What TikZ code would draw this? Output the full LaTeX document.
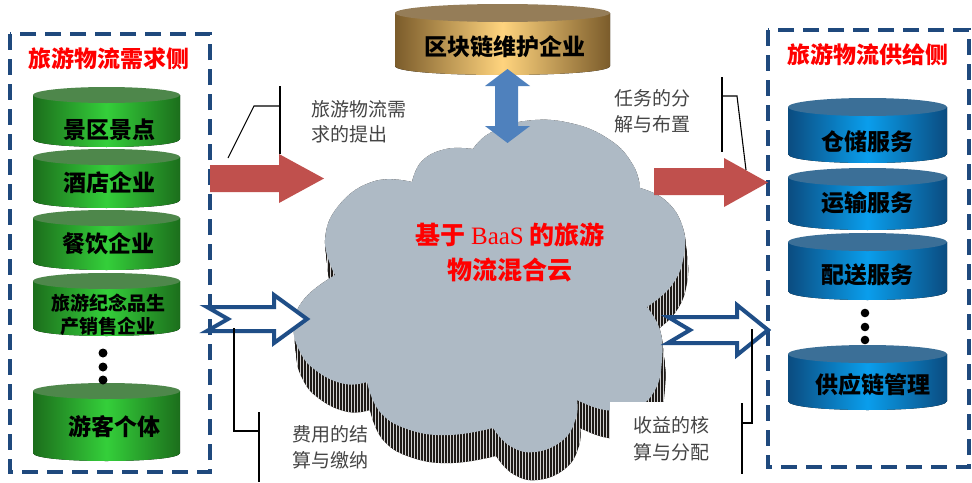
\documentclass[tikz,border=0pt]{standalone}
\usepackage{fontspec}
\setmainfont{Noto Sans CJK SC}
\newfontfamily\latinserif{Liberation Serif}
\usetikzlibrary{patterns}
\definecolor{dashblue}{HTML}{1F497D}
\definecolor{hollowblue}{HTML}{1F4E87}
\definecolor{arrowred}{HTML}{C0504D}
\definecolor{arrowblue}{HTML}{4F81BD}
\definecolor{cloudgray}{HTML}{AEBAC5}
\definecolor{shadowdark}{HTML}{1E1A17}
\definecolor{labelgray}{HTML}{454545}
\definecolor{gEdge}{HTML}{1C6E1C}
\definecolor{gMid}{HTML}{34CF3A}
\definecolor{gTop}{HTML}{4E874B}
\definecolor{bEdge}{HTML}{0B4C80}
\definecolor{bMid}{HTML}{0A9EEC}
\definecolor{bTop}{HTML}{3B6F97}
\definecolor{oEdge}{HTML}{7B5C2B}
\definecolor{oMid}{HTML}{FFD47E}
\definecolor{oTop}{HTML}{957D58}
% cylinder: cx, ytop, ybottom, rx, ry, topcolor, edgecolor, midcolor
\newcommand\mycyl[8]{%
  \fill[left color=#7,right color=#7,middle color=#8]
    (#1-#4,#2+#5) -- (#1-#4,#3-#5)
    .. controls (#1-#4,#3-#5+1.333*#5) and (#1+#4,#3-#5+1.333*#5) .. (#1+#4,#3-#5)
    -- (#1+#4,#2+#5) -- cycle;
  \fill[#6] (#1,#2+#5) ellipse[x radius=#4,y radius=#5];
}
\newcommand\mycloud[1]{%
  \fill[#1] (335,275)
  -- plot[smooth,tension=0.75] coordinates {(335,275) (325,240) (340,204) (375,181) (412,182)}
  -- plot[smooth,tension=0.75] coordinates {(412,182) (422,161) (446,149) (473,149)}
  -- plot[smooth,tension=0.75] coordinates {(473,149) (490,133) (525,121) (570,123) (610,140) (633,165) (640,188)}
  -- plot[smooth,tension=0.75] coordinates {(640,188) (665,200) (682,225) (684,255) (672,285) (647,307)}
  -- plot[smooth,tension=0.75] coordinates {(647,307) (660,330) (662,360) (655,390) (635,408) (605,410) (577,400)}
  -- plot[smooth,tension=0.75] coordinates {(577,400) (576,418) (563,440) (535,452) (510,446) (493,428)}
  -- plot[smooth,tension=0.75] coordinates {(493,428) (450,435) (410,430) (380,412) (367,382)}
  -- plot[smooth,tension=0.75] coordinates {(367,382) (345,384) (318,372) (300,352) (294,325) (305,298) (335,275)}
  -- cycle;
}
\tikzset{
  dashbox/.style={draw=dashblue,line width=3.5pt,dash pattern=on 16pt off 9pt},
  redarrow/.style={fill=arrowred},
  dblarrow/.style={fill=arrowblue},
  hollow/.style={draw=hollowblue,fill=white,line width=4pt,line join=miter},
  callout/.style={draw=black,line width=1.1pt},
  title/.style={text=red,font=\fontsize{23}{28}\selectfont\bfseries,inner sep=0pt,anchor=base},
  cyltext/.style={text=black,font=\fontsize{23}{28}\selectfont\bfseries,inner sep=0pt,anchor=base},
  cyltextsm/.style={text=black,font=\fontsize{19}{24}\selectfont\bfseries,inner sep=0pt,anchor=base},
  label/.style={text=labelgray,font=\fontsize{19}{24}\selectfont,inner sep=0pt,anchor=base west},
  cloudtext/.style={text=red,font=\fontsize{25}{30}\selectfont\bfseries,inner sep=0pt,anchor=base},
  dot/.style={fill=black}
}
\begin{document}
\begin{tikzpicture}[x=1pt,y=-1pt]
\useasboundingbox (0,0) rectangle (972,482);
\fill[white] (0,0) rectangle (972,482);

% dashed boxes
\draw[dashbox] (10,34) rectangle (210,472);
\draw[dashbox] (768,30) rectangle (969,467);

% titles
\node[title] (tleft) at (109,67.7) {旅游物流需求侧};
\node[title] (tright) at (867.5,63.7) {旅游物流供给侧};

% green cylinders
\mycyl{106.5}{87}{147}{73.5}{8}{gTop}{gEdge}{gMid}
\mycyl{106.5}{149}{208}{73.5}{8}{gTop}{gEdge}{gMid}
\mycyl{106.5}{210}{270}{73.5}{8}{gTop}{gEdge}{gMid}
\mycyl{106.5}{273}{336}{73.5}{8}{gTop}{gEdge}{gMid}
\mycyl{106.5}{383}{461}{73.5}{8}{gTop}{gEdge}{gMid}
\node[cyltext] (g1) at (109,138.7) {景区景点};
\node[cyltext] (g2) at (109,191.7) {酒店企业};
\node[cyltext] (g3) at (108,252.7) {餐饮企业};
\node[cyltextsm] (g4a) at (108,310.2) {旅游纪念品生};
\node[cyltextsm] (g4b) at (108,333.2) {产销售企业};
\node[cyltext] (g5) at (114,435.7) {游客个体};
\fill[dot] (103,353) circle[radius=4.5];
\fill[dot] (103,367) circle[radius=4.5];
\fill[dot] (103,380) circle[radius=4.5];

% blue cylinders
\mycyl{867.5}{98}{163}{79.5}{9}{bTop}{bEdge}{bMid}
\mycyl{867.5}{168}{230}{79.5}{9}{bTop}{bEdge}{bMid}
\mycyl{867.5}{233}{300}{79.5}{9}{bTop}{bEdge}{bMid}
\mycyl{867.5}{345}{410}{79.5}{9}{bTop}{bEdge}{bMid}
\node[cyltext] (b1) at (867.5,150.7) {仓储服务};
\node[cyltext] (b2) at (867.5,211.7) {运输服务};
\node[cyltext] (b3) at (867.5,283.7) {配送服务};
\node[cyltext] (b4) at (873,393.7) {供应链管理};
\fill[dot] (865,313) circle[radius=4.3];
\fill[dot] (865,327) circle[radius=4.3];
\fill[dot] (865,340) circle[radius=4.3];

% gold cylinder
\mycyl{502.5}{4}{75}{107.5}{9}{oTop}{oEdge}{oMid}
\node[cyltext] (gold) at (505,55.7) {区块链维护企业};

% cloud shadow (extrusion)
\foreach \t in {0,2,...,28}{
  \begin{scope}[shift={(3*\t/28,\t)}]
    \mycloud{shadowdark}
  \end{scope}
}
\foreach \t in {0,2,...,28}{
  \begin{scope}[shift={(3*\t/28,\t)}]
    \mycloud{pattern=vertical lines,pattern color=gray!35}
  \end{scope}
}
% cloud top face
\mycloud{cloudgray}
% white box behind bottom-right label
\fill[white] (610,402) rectangle (715,482);

\node[cloudtext] (c1) at (510,244.5) {基于 {\latinserif\mdseries BaaS} 的旅游};
\node[cloudtext] (c2) at (510,279.5) {物流混合云};

% red arrows
\fill[redarrow] (210,165) -- (279,165) -- (279,154) -- (324,178.5) -- (279,203) -- (279,192) -- (210,192) -- cycle;
\fill[redarrow] (654,168) -- (724,168) -- (724,158) -- (768,182.5) -- (724,207) -- (724,195) -- (654,195) -- cycle;

% blue double arrow
\fill[dblarrow] (495,86) -- (485,86) -- (507.5,69) -- (530,86) -- (518,86) -- (518,126) -- (530,126) -- (507.5,143) -- (485,126) -- (495,126) -- cycle;

% hollow notched arrows
\draw[hollow] (207,307) -- (274,307) -- (274,295) -- (307,319) -- (274,343) -- (274,331) -- (207,331) -- (228,319) -- cycle;
\draw[hollow] (668,317) -- (737,317) -- (737,305) -- (768,330) -- (737,355) -- (737,343) -- (668,343) -- (690,330) -- cycle;

% callout lines
\coordinate (a1) at (228,158);
\coordinate (a2) at (254,106);
\coordinate (a3) at (280,106);
\coordinate (a4) at (280,86);
\coordinate (a5) at (280,154);
\draw[callout] (a1) -- (a2) -- (a3);
\draw[callout] (a4) -- (a5);

\coordinate (b1c) at (722,77);
\coordinate (b2c) at (722,152);
\coordinate (b3c) at (722,96);
\coordinate (b4c) at (737,96);
\coordinate (b5c) at (746,170);
\draw[callout] (b1c) -- (b2c);
\draw[callout] (b3c) -- (b4c) -- (b5c);

\coordinate (c1c) at (234,328);
\coordinate (c2c) at (234,431);
\coordinate (c3c) at (259,431);
\coordinate (c4c) at (259,412);
\coordinate (c5c) at (259,482);
\draw[callout] (c1c) -- (c2c) -- (c3c);
\draw[callout] (c4c) -- (c5c);

\coordinate (d1c) at (752,329);
\coordinate (d2c) at (752,423);
\coordinate (d3c) at (742,423);
\coordinate (d4c) at (742,403);
\coordinate (d5c) at (742,474);
\draw[callout] (d1c) -- (d2c) -- (d3c);
\draw[callout] (d4c) -- (d5c);

% labels
\node[label] (la1) at (311,116.2) {旅游物流需};
\node[label] (la2) at (311,141.2) {求的提出};
\node[label] (lb1) at (614,105.2) {任务的分};
\node[label] (lb2) at (614,131.2) {解与布置};
\node[label] (lc1) at (292,441.2) {费用的结};
\node[label] (lc2) at (292,467.2) {算与缴纳};
\node[label] (ld1) at (633,432.2) {收益的核};
\node[label] (ld2) at (633,459.2) {算与分配};
\end{tikzpicture}
\end{document}
